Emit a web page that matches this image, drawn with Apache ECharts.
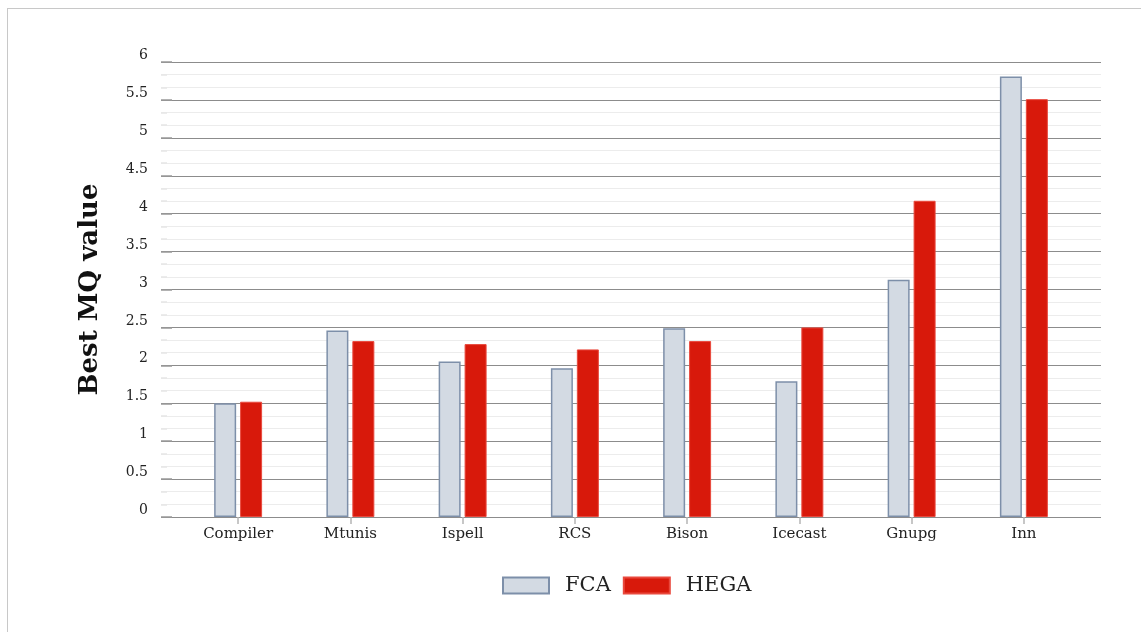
<!DOCTYPE html>
<html>
<head>
<meta charset="utf-8">
<script src="https://cdn.jsdelivr.net/npm/echarts@6/dist/echarts.min.js"></script>
<style>
  html, body { margin: 0; padding: 0; width: 1141px; height: 632px; overflow: hidden; background: #fff; }
  #frame { position: absolute; left: 7px; top: 8px; width: 2000px; height: 2000px; border: 1px solid #c8c8c8; box-sizing: border-box; }
  #chart { position: absolute; left: 0; top: 0; width: 1141px; height: 632px; }
</style>
</head>
<body>
<div id="frame"></div>
<div id="chart"></div>
<script>
// Best MQ value per system, for the two clustering approaches
const systems = ['Compiler', 'Mtunis', 'Ispell', 'RCS', 'Bison', 'Icecast', 'Gnupg', 'Inn'];
const fcaValues  = [1.50, 2.46, 2.05, 1.96, 2.49, 1.79, 3.13, 5.81];
const hegaValues = [1.52, 2.32, 2.28, 2.21, 2.32, 2.50, 4.17, 5.51];
const seriesNames = ['FCA', 'HEGA'];
const yTitle = 'Best MQ value';

const serif = 'DejaVu Serif';
const chart = echarts.init(document.getElementById('chart'), null, { renderer: 'canvas' });

chart.setOption({
  animation: false,
  backgroundColor: 'transparent',
  grid: [
    { left: 161, right: 40, top: 62, bottom: 115 },
    { left: 182, right: 61, top: 62, bottom: 115 }
  ],
  xAxis: [
    { gridIndex: 0, type: 'value', show: false, min: 0, max: 1 },
    {
      gridIndex: 1, type: 'category', data: systems,
      axisLine: { show: false },
      axisTick: { show: true, alignWithLabel: true, length: 7, lineStyle: { color: '#b5b5b5', width: 1.5 } },
      axisLabel: { margin: 10, fontFamily: serif, fontSize: 15, color: '#222' }
    }
  ],
  yAxis: [
    {
      gridIndex: 0, type: 'value', min: 0, max: 6, interval: 0.5,
      name: yTitle, nameLocation: 'middle', nameGap: 58,
      nameTextStyle: { fontFamily: serif, fontWeight: 'bold', fontSize: 26, color: '#111' },
      axisLine: { show: false },
      axisTick: { show: true, inside: true, length: 11, lineStyle: { color: '#999', width: 1.5 } },
      minorTick: { show: true, splitNumber: 3, length: 6, lineStyle: { color: '#e6e6e6', width: 1.5 } },
      axisLabel: { margin: 13, fontFamily: serif, fontSize: 14, color: '#222', verticalAlign: 'bottom', lineHeight: 13 },
      splitLine: { show: true, lineStyle: { color: '#8c8c8c', width: 1 } },
      minorSplitLine: { show: true, lineStyle: { color: '#ececec', width: 1 } }
    },
    { gridIndex: 1, type: 'value', min: 0, max: 6, show: false, splitLine: { show: false } }
  ],
  legend: {
    data: seriesNames,
    left: 497, top: 570,
    itemWidth: 46, itemHeight: 16, itemGap: 12,
    icon: 'rect',
    textStyle: { fontFamily: serif, fontSize: 21, color: '#222', padding: [0, 0, 0, 11] }
  },
  series: [
    {
      name: seriesNames[0], type: 'bar', xAxisIndex: 1, yAxisIndex: 1,
      data: fcaValues, barWidth: 22, barGap: '18%',
      itemStyle: { color: '#d3dae3', borderColor: '#7d8fa9', borderWidth: 1.5 }
    },
    {
      name: seriesNames[1], type: 'bar', xAxisIndex: 1, yAxisIndex: 1,
      data: hegaValues, barWidth: 22, barGap: '18%',
      itemStyle: { color: '#d8190b', borderColor: '#e9493d', borderWidth: 1 }
    }
  ]
});
</script>
</body>
</html>
